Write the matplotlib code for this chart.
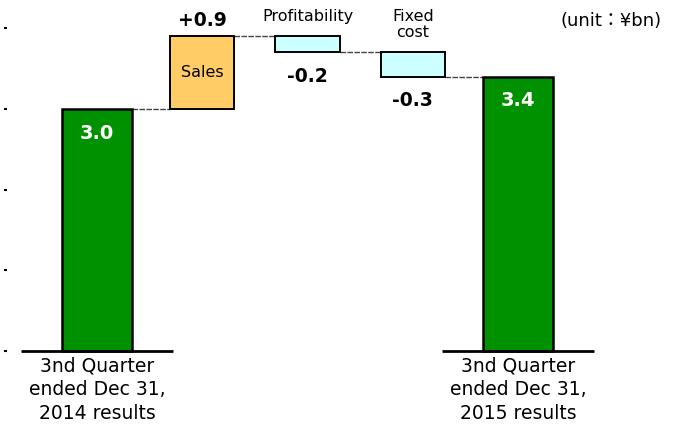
import numpy as np
import matplotlib.pyplot as plt

# waterfall data (unit: yen bn)
start_label = '3nd Quarter\nended Dec 31,\n2014 results'
end_label = '3nd Quarter\nended Dec 31,\n2015 results'
start_value = 3.0
end_value = 3.4
step_names = ['Sales', 'Profitability', 'Fixed\ncost']
step_changes = [0.9, -0.2, -0.3]
step_texts = ['+0.9', '-0.2', '-0.3']
step_colors = ['#FFCC66', '#CCFFFF', '#CCFFFF']
y_ticks = [0, 1, 2, 3, 4]

green = '#009100'

fig = plt.figure(figsize=(6.73, 4.25), dpi=100)
ax = fig.add_axes([7 / 673, 0, 666 / 673, 1])

# pixel mapping: x center 0 -> 97px, step 105.25px; y 0 -> 351px, 80.7px per unit
ax.set_xlim(-(97 - 7) / 105.25, (673 - 97) / 105.25)
ax.set_ylim(-(425 - 351) / 80.7, 351 / 80.7)
top_row = (351 - 9) / 80.7  # y where the step names start

x_start = 0
x_steps = np.arange(1, 1 + len(step_changes))
x_end = x_steps[-1] + 1

big_w = 0.665
small_w = 0.61

# total bars
for x, v, txt in [(x_start, start_value, '3.0'), (x_end, end_value, '3.4')]:
    ax.bar(x, v, width=big_w, color=green, edgecolor='black', linewidth=1.8, zorder=3)
    ax.text(x, v - 0.3, txt, ha='center', va='center', color='white',
            fontsize=14, fontweight='bold', zorder=4)
    ax.plot([x - 0.72, x + 0.72], [0, 0], color='black', lw=2, zorder=4,
            solid_capstyle='butt')

# step bars
level = start_value
levels = [level]
for x, ch, name, txt, col in zip(x_steps, step_changes, step_names, step_texts, step_colors):
    bottom = level if ch > 0 else level + ch
    ax.bar(x, abs(ch), bottom=bottom, width=small_w, color=col,
           edgecolor='black', linewidth=1.4, zorder=3)
    if ch > 0:
        ax.text(x, level + ch + 0.2, txt, ha='center', va='center',
                fontsize=13.5, fontweight='bold')
        ax.text(x, level + ch / 2, name, ha='center', va='center', fontsize=11.5)
    else:
        ax.text(x, level + ch - 0.3, txt, ha='center', va='center',
                fontsize=13.5, fontweight='bold')
        ax.text(x, top_row, name, ha='center', va='top', fontsize=11.5,
                linespacing=1.1)
    level += ch
    levels.append(level)

# connector lines
xs = [x_start] + list(x_steps) + [x_end]
widths = [big_w] + [small_w] * len(step_changes) + [big_w]
for i in range(len(xs) - 1):
    ax.plot([xs[i] + widths[i] / 2, xs[i + 1] - widths[i + 1] / 2],
            [levels[i], levels[i]], color='#444444', lw=1,
            linestyle=(0, (4, 1)), zorder=2)

# category labels under totals
for x, lab in [(x_start, start_label), (x_end, end_label)]:
    ax.text(x, -0.07, lab, ha='center', va='top', fontsize=13.5, linespacing=1.32)

ax.text((662 - 97) / 105.25, (351 - 21) / 80.7, '(unit：¥bn)', ha='right',
        va='center', fontsize=13, family=['DejaVu Sans', 'Noto Sans CJK JP'])

for s in ax.spines.values():
    s.set_visible(False)
ax.set_xticks([])
ax.set_yticks(y_ticks)
ax.set_yticklabels([])
ax.tick_params(axis='y', length=2, width=1.5, color='black', direction='out')

fig.savefig('out.png', dpi=100)
